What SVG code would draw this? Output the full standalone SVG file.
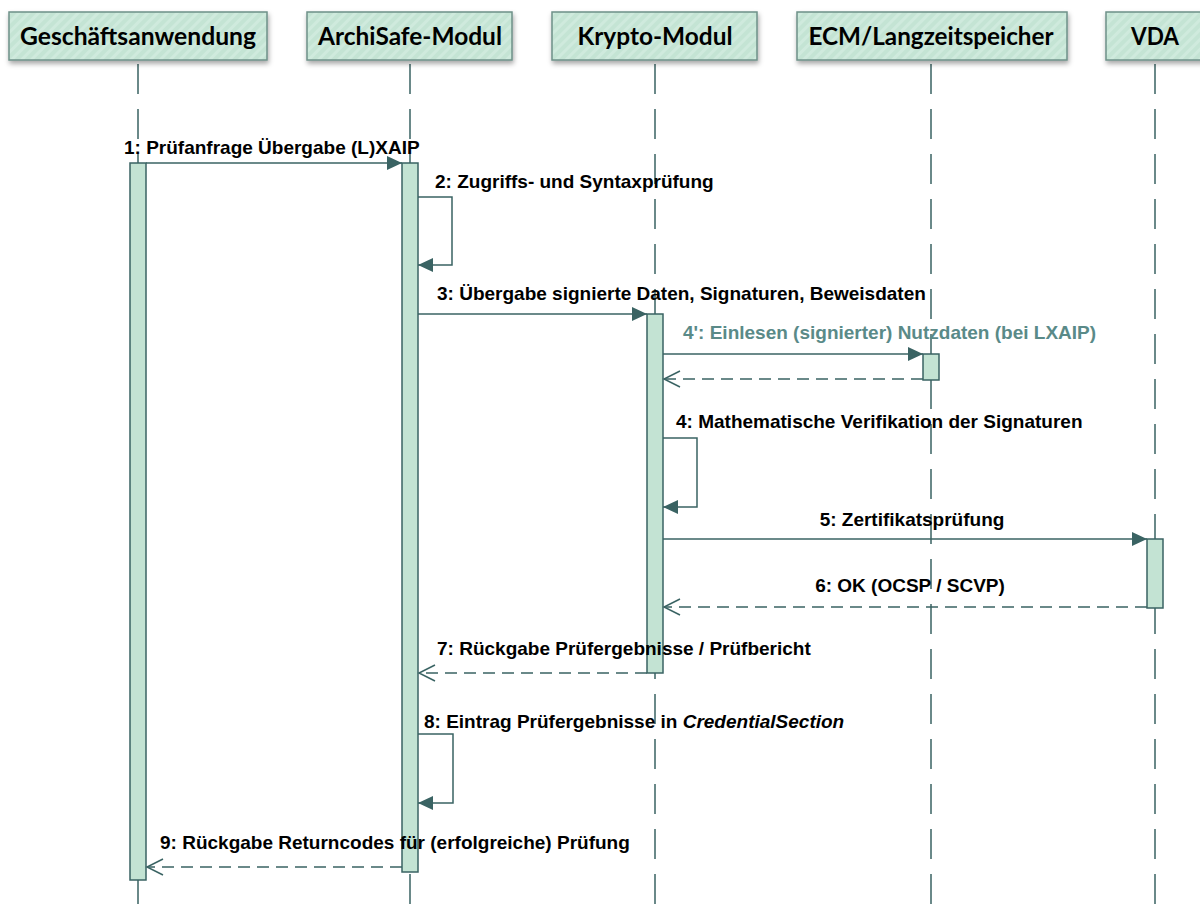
<svg xmlns="http://www.w3.org/2000/svg" width="1200" height="909" viewBox="0 0 1200 909">
<defs>
  <pattern id="hatch" patternUnits="userSpaceOnUse" width="7" height="7" patternTransform="rotate(45)">
    <rect width="7" height="7" fill="#c4e4d4"/>
    <rect width="3" height="7" fill="#cfeadd"/>
  </pattern>
  <filter id="shadow" x="-10%" y="-20%" width="120%" height="160%">
    <feDropShadow dx="1" dy="3" stdDeviation="2.5" flood-color="#000" flood-opacity="0.35"/>
  </filter>
  <marker id="filled" markerWidth="16" markerHeight="14" refX="15" refY="7" orient="auto" markerUnits="userSpaceOnUse">
    <path d="M0,0 L15,7 L0,14 Z" fill="#3a6363"/>
  </marker>
  <marker id="open" markerWidth="19" markerHeight="18" refX="17" refY="9" orient="auto" markerUnits="userSpaceOnUse">
    <path d="M1,1 L17,9 L1,17" fill="none" stroke="#3a6363" stroke-width="1.5"/>
  </marker>
</defs>
<style>
  .head rect { fill: url(#hatch); stroke: #6e9088; stroke-width: 1.5; filter: url(#shadow); }
  .head text { font-family: Lato, "Open Sans", sans-serif; font-weight: bold; font-size: 24px; fill: #000; }
  .life { stroke: #3a6363; stroke-width: 1.5; stroke-dasharray: 30 15; fill: none; }
  .bar { fill: #c3e3d3; stroke: #3a6363; stroke-width: 1.5; }
  .msg { stroke: #3a6363; stroke-width: 1.5; fill: none; }
  .ret { stroke: #3a6363; stroke-width: 1.5; fill: none; stroke-dasharray: 12 7; }
  .lbl { font-family: "Liberation Sans", Arial, sans-serif; font-weight: bold; font-size: 19px; fill: #000; }
  .lbl2 { font-family: "Liberation Sans", Arial, sans-serif; font-weight: bold; font-size: 19px; fill: #5a8a88; }
</style>

<g id="lifelines">
  <line class="life" x1="138" y1="64" x2="138" y2="909"/>
  <line class="life" x1="410" y1="64" x2="410" y2="909"/>
  <line class="life" x1="655" y1="64" x2="655" y2="909"/>
  <line class="life" x1="931" y1="64" x2="931" y2="909"/>
  <line class="life" x1="1155" y1="64" x2="1155" y2="909"/>
</g>

<g id="node-geschaeftsanwendung" class="head">
  <rect x="9" y="12" width="258" height="48"/>
  <text x="138" y="45" text-anchor="middle" textLength="236" lengthAdjust="spacingAndGlyphs">Geschäftsanwendung</text>
</g>
<g id="node-archisafe" class="head">
  <rect x="307" y="12" width="205" height="48"/>
  <text x="410" y="45" text-anchor="middle" textLength="184" lengthAdjust="spacingAndGlyphs">ArchiSafe-Modul</text>
</g>
<g id="node-krypto" class="head">
  <rect x="552" y="12" width="205" height="48"/>
  <text x="655" y="45" text-anchor="middle" textLength="155" lengthAdjust="spacingAndGlyphs">Krypto-Modul</text>
</g>
<g id="node-ecm" class="head">
  <rect x="797" y="12" width="270" height="48"/>
  <text x="931" y="45" text-anchor="middle" textLength="245" lengthAdjust="spacingAndGlyphs">ECM/Langzeitspeicher</text>
</g>
<g id="node-vda" class="head">
  <rect x="1106" y="12" width="110" height="48"/>
  <text x="1155" y="45" text-anchor="middle" textLength="48" lengthAdjust="spacingAndGlyphs">VDA</text>
</g>

<g id="activations">
  <rect class="bar" x="130" y="163" width="16" height="717"/>
  <rect class="bar" x="402" y="163" width="16" height="709"/>
  <rect class="bar" x="647" y="314" width="16" height="359"/>
  <rect class="bar" x="923" y="354" width="16" height="26"/>
  <rect class="bar" x="1147" y="539" width="16" height="69"/>
</g>

<g id="connectors">
  <line class="msg" x1="146" y1="163" x2="402" y2="163" marker-end="url(#filled)"/>
  <polyline class="msg" points="418,197 452,197 452,265 418,265" marker-end="url(#filled)"/>
  <line class="msg" x1="418" y1="314" x2="647" y2="314" marker-end="url(#filled)"/>
  <line class="msg" x1="663" y1="354" x2="923" y2="354" marker-end="url(#filled)"/>
  <line class="ret" x1="923" y1="379" x2="664" y2="379" marker-end="url(#open)"/>
  <polyline class="msg" points="663,438 697,438 697,507 663,507" marker-end="url(#filled)"/>
  <line class="msg" x1="663" y1="539" x2="1147" y2="539" marker-end="url(#filled)"/>
  <line class="ret" x1="1147" y1="607" x2="664" y2="607" marker-end="url(#open)"/>
  <line class="ret" x1="647" y1="673" x2="419" y2="673" marker-end="url(#open)"/>
  <polyline class="msg" points="418,734 453,734 453,803 418,803" marker-end="url(#filled)"/>
  <line class="ret" x1="402" y1="867" x2="147" y2="867" marker-end="url(#open)"/>
</g>

<g id="labels">
  <text class="lbl" x="124" y="154">1: Prüfanfrage Übergabe (L)XAIP</text>
  <text class="lbl" x="435" y="188">2: Zugriffs- und Syntaxprüfung</text>
  <text class="lbl" x="437" y="300">3: Übergabe signierte Daten, Signaturen, Beweisdaten</text>
  <text class="lbl2" x="683" y="339">4': Einlesen (signierter) Nutzdaten (bei LXAIP)</text>
  <text class="lbl" x="676" y="428">4: Mathematische Verifikation der Signaturen</text>
  <text class="lbl" x="912" y="526" text-anchor="middle">5: Zertifikatsprüfung</text>
  <text class="lbl" x="910" y="592" text-anchor="middle">6: OK (OCSP / SCVP)</text>
  <text class="lbl" x="437" y="655">7: Rückgabe Prüfergebnisse / Prüfbericht</text>
  <text class="lbl" x="424" y="728">8: Eintrag Prüfergebnisse in <tspan font-style="italic">CredentialSection</tspan></text>
  <text class="lbl" x="160" y="849">9: Rückgabe Returncodes für (erfolgreiche) Prüfung</text>
</g>
</svg>
